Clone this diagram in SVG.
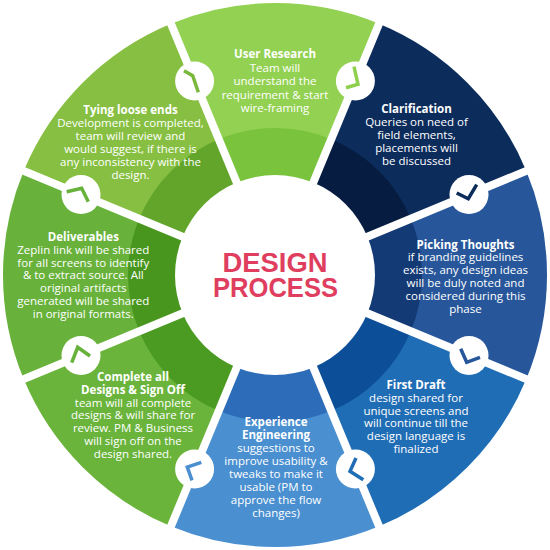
<svg xmlns="http://www.w3.org/2000/svg" width="550" height="550" viewBox="0 0 550 550">
<style>
.t{font-family:"Open Sans","Liberation Sans",sans-serif;font-size:11.5px;fill:#ffffff;text-anchor:middle}
.b{font-weight:700}
.gap{stroke:#ffffff;stroke-width:8}
.knob{fill:#ffffff}
.mk{fill:none;stroke-width:3.5;stroke-linecap:butt;stroke-linejoin:miter}
.ctr{font-family:"Liberation Sans","Open Sans",sans-serif;font-weight:700;font-size:28px;fill:#e03e5e;text-anchor:middle}
</style>
<rect width="550" height="550" fill="#ffffff"/>
<g id="user-research">
<path d="M275,275 L170.9,23.7 A272,272 0 0 1 379.1,23.7 Z" fill="#93d152"/>
<path d="M275,275 L218.7,139.2 A147,147 0 0 1 331.3,139.2 Z" fill="#79c43c"/>
<text class="t" x="275" y="58.3"><tspan class="b" x="275">User Research</tspan><tspan x="275" dy="13.5">Team will</tspan><tspan x="275" dy="13.4">understand the</tspan><tspan x="275" dy="13.3">requirement &amp; start</tspan><tspan x="275" dy="13.3">wire-framing</tspan></text>
</g>
<g id="clarification">
<path d="M275,275 L379.1,23.7 A272,272 0 0 1 526.3,170.9 Z" fill="#0c2c5c"/>
<path d="M275,275 L331.3,139.2 A147,147 0 0 1 410.8,218.7 Z" fill="#061c40"/>
<text class="t" x="416.5" y="113"><tspan class="b" x="416.5">Clarification</tspan><tspan x="416.5" dy="13">Queries on need of</tspan><tspan x="416.5" dy="13">field elements,</tspan><tspan x="416.5" dy="13">placements will</tspan><tspan x="416.5" dy="13">be discussed</tspan></text>
</g>
<g id="picking-thoughts">
<path d="M275,275 L526.3,170.9 A272,272 0 0 1 526.3,379.1 Z" fill="#27579a"/>
<path d="M275,275 L410.8,218.7 A147,147 0 0 1 410.8,331.3 Z" fill="#143a75"/>
<text class="t" x="465.5" y="248.5"><tspan class="b" x="465.5">Picking Thoughts</tspan><tspan x="465.5" dy="12.8">if branding guidelines</tspan><tspan x="465.5" dy="12.8">exists, any design ideas</tspan><tspan x="465.5" dy="12.8">will be duly noted and</tspan><tspan x="465.5" dy="12.8">considered during this</tspan><tspan x="465.5" dy="12.8">phase</tspan></text>
</g>
<g id="first-draft">
<path d="M275,275 L526.3,379.1 A272,272 0 0 1 379.1,526.3 Z" fill="#1f6db5"/>
<path d="M275,275 L410.8,331.3 A147,147 0 0 1 331.3,410.8 Z" fill="#0c4e98"/>
<text class="t" x="416" y="389"><tspan class="b" x="416">First Draft</tspan><tspan x="416" dy="12.8">design shared for</tspan><tspan x="416" dy="12.8">unique screens and</tspan><tspan x="416" dy="12.8">will continue till the</tspan><tspan x="416" dy="12.8">design language is</tspan><tspan x="416" dy="12.8">finalized</tspan></text>
</g>
<g id="experience-engineering">
<path d="M275,275 L379.1,526.3 A272,272 0 0 1 170.9,526.3 Z" fill="#4a8fd0"/>
<path d="M275,275 L331.3,410.8 A147,147 0 0 1 218.7,410.8 Z" fill="#2c6cb8"/>
<text class="t" x="276" y="426.2"><tspan class="b" x="276">Experience</tspan><tspan class="b" x="276" dy="13">Engineering</tspan><tspan x="276" dy="13">suggestions to</tspan><tspan x="276" dy="13">improve usability &amp;</tspan><tspan x="276" dy="13">tweaks to make it</tspan><tspan x="276" dy="13">usable (PM to</tspan><tspan x="276" dy="13">approve the flow</tspan><tspan x="276" dy="13">changes)</tspan></text>
</g>
<g id="complete-sign-off">
<path d="M275,275 L170.9,526.3 A272,272 0 0 1 23.7,379.1 Z" fill="#6ab43c"/>
<path d="M275,275 L218.7,410.8 A147,147 0 0 1 139.2,331.3 Z" fill="#4b9a22"/>
<text class="t" x="133" y="380.7"><tspan class="b" x="133">Complete all</tspan><tspan class="b" x="133" dy="12.93">Designs &amp; Sign Off</tspan><tspan x="133" dy="12.93">team will all complete</tspan><tspan x="133" dy="12.93">designs &amp; will share for</tspan><tspan x="133" dy="12.93">review. PM &amp; Business</tspan><tspan x="133" dy="12.93">will sign off on the</tspan><tspan x="133" dy="12.93">design shared.</tspan></text>
</g>
<g id="deliverables">
<path d="M275,275 L23.7,379.1 A272,272 0 0 1 23.7,170.9 Z" fill="#68b23b"/>
<path d="M275,275 L139.2,331.3 A147,147 0 0 1 139.2,218.7 Z" fill="#48961e"/>
<text class="t" x="83.3" y="240.7"><tspan class="b" x="83.3">Deliverables</tspan><tspan x="83.3" dy="12.93">Zeplin link will be shared</tspan><tspan x="83.3" dy="12.93">for all screens  to identify</tspan><tspan x="83.3" dy="12.93">&amp; to extract source. All</tspan><tspan x="83.3" dy="12.93">original artifacts</tspan><tspan x="83.3" dy="12.93">generated will be shared</tspan><tspan x="83.3" dy="12.93">in original formats.</tspan></text>
</g>
<g id="tying-loose-ends">
<path d="M275,275 L23.7,170.9 A272,272 0 0 1 170.9,23.7 Z" fill="#87bf42"/>
<path d="M275,275 L139.2,218.7 A147,147 0 0 1 218.7,139.2 Z" fill="#62a52a"/>
<text class="t" x="130.5" y="114"><tspan class="b" x="130.5">Tying loose ends</tspan><tspan x="130.5" dy="13">Development is completed,</tspan><tspan x="130.5" dy="13">team will review and</tspan><tspan x="130.5" dy="13">would suggest, if there is</tspan><tspan x="130.5" dy="13">any inconsistency with the</tspan><tspan x="130.5" dy="13">design.</tspan></text>
</g>
<g id="connectors">
<line class="gap" x1="275" y1="275" x2="169.4" y2="20"/>
<line class="gap" x1="275" y1="275" x2="380.6" y2="20"/>
<line class="gap" x1="275" y1="275" x2="530" y2="169.4"/>
<line class="gap" x1="275" y1="275" x2="530" y2="380.6"/>
<line class="gap" x1="275" y1="275" x2="380.6" y2="530"/>
<line class="gap" x1="275" y1="275" x2="169.4" y2="530"/>
<line class="gap" x1="275" y1="275" x2="20" y2="380.6"/>
<line class="gap" x1="275" y1="275" x2="20" y2="169.4"/>
<circle class="knob" cx="194.6" cy="81" r="19.5"/>
<circle class="knob" cx="355.4" cy="81" r="19.5"/>
<circle class="knob" cx="469" cy="194.6" r="19.5"/>
<circle class="knob" cx="469" cy="355.4" r="19.5"/>
<circle class="knob" cx="355.4" cy="469" r="19.5"/>
<circle class="knob" cx="194.6" cy="469" r="19.5"/>
<circle class="knob" cx="81" cy="355.4" r="19.5"/>
<circle class="knob" cx="81" cy="194.6" r="19.5"/>
<polyline class="mk" stroke="#7ab83c" points="184,70.7 192.7,75.7 198.3,92.3"/>
<polyline class="mk" stroke="#8fd04f" points="354,66.7 358,84.3 346,87.7"/>
<polyline class="mk" stroke="#0c2c5c" points="456.7,193 468.3,198.7 476.7,184.7"/>
<polyline class="mk" stroke="#27579a" points="460.7,348.7 466.7,362.3 480,357.3"/>
<polyline class="mk" stroke="#1f6db5" points="356,458 350,471.3 363.3,479.7"/>
<polyline class="mk" stroke="#4a8fd0" points="201.3,462.3 187.3,467 192,480.3"/>
<polyline class="mk" stroke="#66b23a" points="71.7,362.7 77.7,347.3 90,356"/>
<polyline class="mk" stroke="#66b23a" points="66.7,191.7 81.7,188.3 88.3,201.7"/>
</g>
<g id="center">
<circle cx="275" cy="275" r="100" fill="#ffffff"/>
<text class="ctr" x="275" y="272"><tspan x="275" textLength="105" lengthAdjust="spacingAndGlyphs">DESIGN</tspan><tspan x="275.5" dy="25" textLength="125" lengthAdjust="spacingAndGlyphs">PROCESS</tspan></text>
</g>
</svg>
